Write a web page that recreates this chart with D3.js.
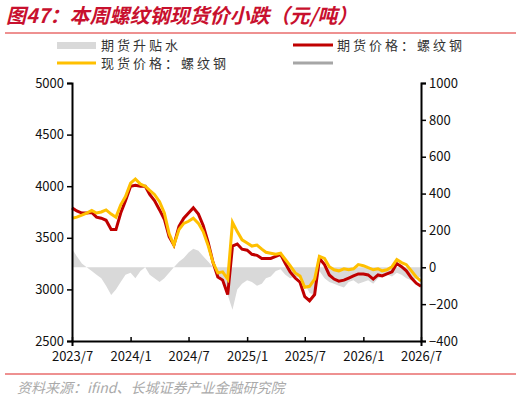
<!DOCTYPE html>
<html><head><meta charset="utf-8">
<script src="https://cdn.jsdelivr.net/npm/d3@7"></script>
<style>body{margin:0;background:#fff}text{font-family:"Noto Sans CJK SC","Liberation Sans",sans-serif}</style>
</head><body><svg id="c" width="521" height="403"></svg>
<script>
const spot=[3690,3700,3720,3740,3765,3740,3750,3770,3730,3700,3820,3900,4030,4070,4020,4000,3960,3920,3850,3740,3540,3430,3580,3640,3660,3690,3640,3560,3420,3260,3160,3170,3100,3650,3560,3480,3450,3420,3430,3390,3360,3350,3340,3350,3290,3230,3160,3130,3020,3030,3100,3320,3300,3220,3190,3180,3200,3190,3200,3240,3230,3210,3190,3200,3180,3190,3220,3290,3260,3240,3180,3120,3080];
const futures=[3790,3760,3740,3740,3745,3700,3690,3670,3580,3580,3740,3860,4000,4010,4000,4000,3920,3860,3770,3680,3510,3430,3610,3690,3740,3790,3730,3620,3450,3260,3120,3090,2950,3420,3440,3390,3380,3340,3330,3300,3300,3300,3320,3340,3250,3170,3110,3070,2930,2890,2950,3300,3240,3140,3100,3080,3090,3110,3130,3150,3150,3140,3100,3140,3130,3150,3170,3250,3220,3180,3110,3060,3030];
const basis=[100,60,20,0,-20,-40,-60,-100,-150,-120,-80,-40,-30,-60,-20,0,-40,-60,-80,-60,-30,0,30,50,80,100,90,60,30,0,-40,-80,-150,-230,-120,-90,-70,-80,-100,-90,-60,-50,-20,-10,-40,-60,-50,-60,-90,-140,-150,-20,-60,-80,-90,-100,-110,-80,-70,-90,-80,-70,-90,-60,-50,-40,-50,-30,-40,-60,-70,-60,-50];
const xTicks=["2023/7","2024/1","2024/7","2025/1","2025/7","2026/1","2026/7"];
const leftTicks=[2500,3000,3500,4000,4500,5000];
const rightTicks=[-400,-200,0,200,400,600,800,1000];

const dates=spot.map((_,i)=>{const d=d3.timeMonth.offset(new Date(2023,6,1),Math.floor(i/2));if(i%2)d.setDate(16);return d;});
const svg=d3.select("#c");
const x=d3.scaleTime().domain([new Date(2023,6,1),new Date(2026,6,1)]).range([72,421]);
const yL=d3.scaleLinear().domain([2500,5000]).range([341,83]);
const yR=d3.scaleLinear().domain([-400,1000]).range([341,83]);

svg.append("text").attr("x",6).attr("y",23).attr("fill","#c8102e").attr("font-size",20).attr("font-weight","bold").attr("font-style","italic").text("图47：本周螺纹钢现货价小跌（元/吨）");
svg.append("line").attr("x1",5).attr("x2",516).attr("y1",33).attr("y2",33).attr("stroke","#d22").attr("stroke-width",1);
svg.append("line").attr("x1",5).attr("x2",516).attr("y1",374).attr("y2",374).attr("stroke","#d22").attr("stroke-width",1);
svg.append("text").attr("x",17).attr("y",393).attr("fill","#aaa").attr("font-size",14).attr("font-style","italic").text("资料来源：ifind、长城证券产业金融研究院");

const lg=svg.append("g").attr("font-size",13).attr("fill","#333").attr("letter-spacing",3);
lg.append("rect").attr("x",57).attr("y",42).attr("width",39).attr("height",7).attr("fill","#d9d9d9");
lg.append("text").attr("x",101).attr("y",50).text("期货升贴水");
lg.append("line").attr("x1",293).attr("x2",333).attr("y1",45).attr("y2",45).attr("stroke","#c00000").attr("stroke-width",3);
lg.append("text").attr("x",337).attr("y",50).text("期货价格：螺纹钢");
lg.append("line").attr("x1",57).attr("x2",96).attr("y1",63).attr("y2",63).attr("stroke","#ffc000").attr("stroke-width",3);
lg.append("text").attr("x",101).attr("y",68).text("现货价格：螺纹钢");
lg.append("line").attr("x1",293).attr("x2",333).attr("y1",63).attr("y2",63).attr("stroke","#a6a6a6").attr("stroke-width",3);

svg.append("path").datum(basis).attr("fill","#d9d9d9")
 .attr("d",d3.area().x((d,i)=>x(dates[i])).y0(yR(0)).y1(d=>yR(d)));
svg.append("path").datum(futures).attr("fill","none").attr("stroke","#c00000").attr("stroke-width",3)
 .attr("d",d3.line().x((d,i)=>x(dates[i])).y(d=>yL(d)));
svg.append("path").datum(spot).attr("fill","none").attr("stroke","#ffc000").attr("stroke-width",3)
 .attr("d",d3.line().x((d,i)=>x(dates[i])).y(d=>yL(d)));

const axL=svg.append("g").attr("transform","translate(72,0)").call(d3.axisLeft(yL).tickValues(leftTicks).tickSize(5).tickFormat(d3.format("d")));
const axR=svg.append("g").attr("transform","translate(421,0)").call(d3.axisRight(yR).tickValues(rightTicks).tickSize(5).tickFormat(d=>d<0?"−"+(-d):d));
const xv=xTicks.map(s=>{const [a,b]=s.split("/");return new Date(+a,+b-1,1);});
const axB=svg.append("g").attr("transform","translate(0,341)").call(d3.axisBottom(x).tickValues(xv).tickSize(5).tickFormat((d,i)=>xTicks[i]));
[axL,axR,axB].forEach(a=>{a.select(".domain").attr("stroke","#000").attr("stroke-width",2);a.selectAll(".tick line").attr("stroke","#000").attr("stroke-width",1.5);a.selectAll("text").attr("font-size",13).attr("fill","#111").attr("font-family","Liberation Sans, Arial");});
axB.selectAll(".tick line").attr("y1",-4).attr("y2",1);
axB.selectAll("text").attr("dy","0.9em");
</script></body></html>
